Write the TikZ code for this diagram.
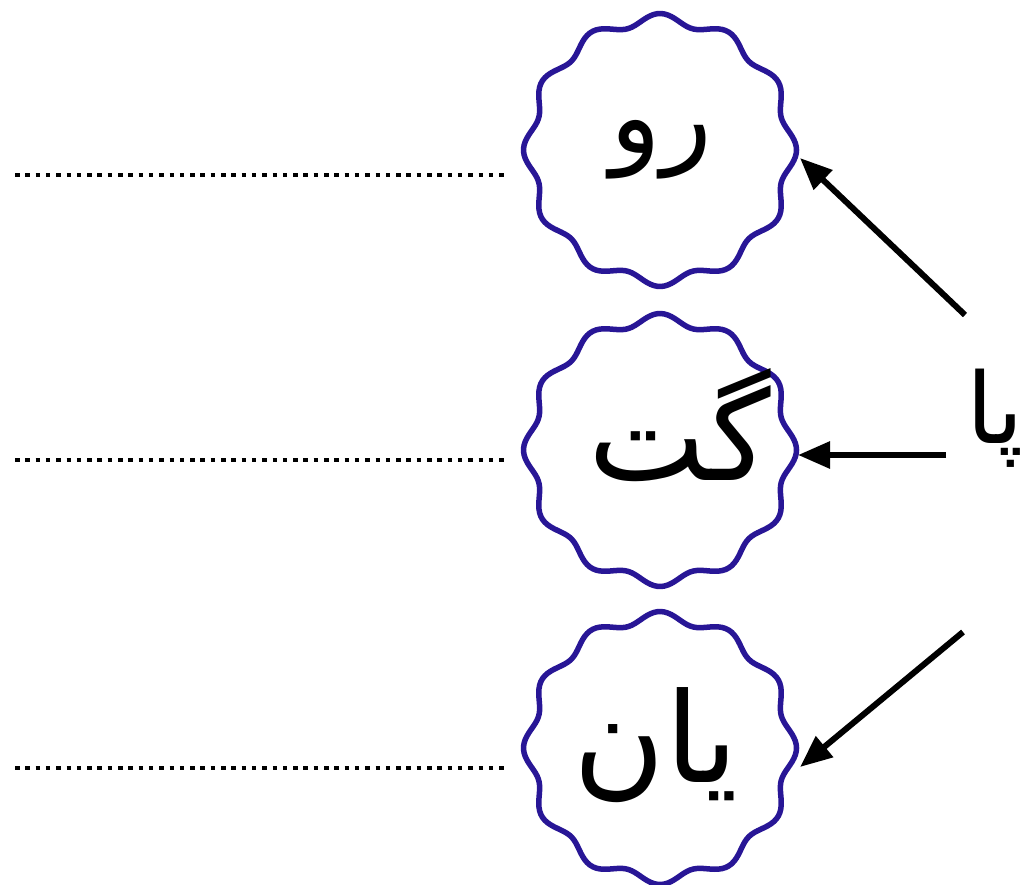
\documentclass[tikz,border=0pt]{standalone}
\usepackage{fontspec}
\newfontfamily\arabicfont[Script=Arabic]{DejaVu Sans}
\TeXXeTstate=1
\usetikzlibrary{arrows.meta}
\definecolor{wavyblue}{RGB}{40,22,150}
\tikzset{
  wavy/.style={draw=wavyblue, line width=5.5pt},
  dotline/.style={line width=4.5pt, dash pattern=on 4.5pt off 5.8pt},
  pointer/.style={line width=6pt, -{Triangle[length=32pt,width=26pt]}},
  holder/.style={circle, minimum size=262pt, inner sep=0pt},
  word/.style={font=\arabicfont, text=black, inner sep=0pt}
}
\begin{document}
\begin{tikzpicture}[x=1pt,y=-1pt]
\useasboundingbox (0,0) rectangle (1027,884);
\fill[white] (0,0) rectangle (1027,884);
% holders
\node[holder] (c1) at (660,150) {};
\node[holder] (c2) at (660,450) {};
\node[holder] (c3) at (660,748) {};
\foreach \c in {c1,c2,c3}{
  \draw[wavy, shift={(\c.center)}] plot[smooth cycle, samples=241, domain=0:358.5, variable=\t]
    ({cos(\t)*(131+5.5*cos(12*\t))}, {sin(\t)*(131+5.5*cos(12*\t))});
}
% words
\node[word, font=\arabicfont\fontsize{105}{115}\selectfont] (w1) at (661,150) {\beginR رو\endR};
\node[word, font=\arabicfont\fontsize{125}{135}\selectfont] (w2) at (680,425) {\beginR گت\endR};
\node[word, font=\arabicfont\fontsize{125}{135}\selectfont] (w3) at (656,745) {\beginR یان\endR};
\node[word, font=\arabicfont\fontsize{98}{108}\selectfont] (pa) at (995,418) {\beginR پا\endR};
% dotted lines
\coordinate (d1a) at (15,175); \coordinate (d1b) at (505,175);
\coordinate (d2a) at (15,460); \coordinate (d2b) at (505,460);
\coordinate (d3a) at (15,768); \coordinate (d3b) at (505,768);
\draw[dotline] (d1a) -- (d1b);
\draw[dotline] (d2a) -- (d2b);
\draw[dotline] (d3a) -- (d3b);
% arrows
\coordinate (a1s) at (965,315); \coordinate (a1e) at (800,158);
\coordinate (a2s) at (946,455); \coordinate (a2e) at (798,455);
\coordinate (a3s) at (963,632); \coordinate (a3e) at (800,767);
\draw[pointer] (a1s) -- (a1e);
\draw[pointer] (a2s) -- (a2e);
\draw[pointer] (a3s) -- (a3e);
\end{tikzpicture}
\end{document}
